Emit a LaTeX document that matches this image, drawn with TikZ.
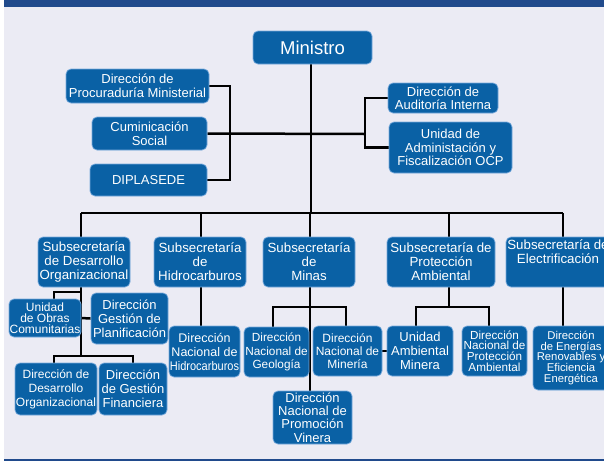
\documentclass[tikz,border=0pt]{standalone}
\usepackage{fontspec}
\setmainfont{Liberation Sans}
\pgfdeclarelayer{back}
\pgfdeclarelayer{bg}
\pgfsetlayers{back,bg,main}
\definecolor{barblue}{RGB}{32,74,140}
\definecolor{pagebg}{RGB}{235,235,244}
\definecolor{boxblue}{RGB}{10,97,165}
\definecolor{boxedge}{RGB}{120,170,220}
\newcommand{\fs}[2]{\fontsize{#1}{#2}\selectfont}
\tikzset{
  box/.style={draw=boxedge, line width=0.7pt, fill=boxblue, rounded corners=5pt,
    text=white, align=center, inner sep=0pt},
  ln/.style={line width=2.5pt, draw=black},
}
\begin{document}
\begin{tikzpicture}[x=1pt,y=-1pt]
\useasboundingbox (0,0) rectangle (604,461);
\clip (0,0) rectangle (604,461);
\begin{pgfonlayer}{back}
\fill[white] (0,0) rectangle (604,461);
\fill[pagebg] (4,7) rectangle (604,459);
\fill[barblue] (4,0) rectangle (604,7);
\fill[barblue] (4,459) rectangle (604,461);
\end{pgfonlayer}

% top level
\node[box, minimum width=119pt, minimum height=33pt, font=\fs{18.5}{20}] (min) at (312.5,47.5) {Ministro};
\node[box, minimum width=143pt, minimum height=34pt, font=\fs{13}{13.5}] (proc) at (137.5,86) {Dirección de\\Procuraduría Ministerial};
\node[box, minimum width=115pt, minimum height=33pt, font=\fs{13}{14}] (cum) at (149.5,133.5) {Cuminicación\\Social};
\node[box, minimum width=117pt, minimum height=32pt, font=\fs{13}{14}] (dip) at (148.5,180) {DIPLASEDE};
\node[box, minimum width=110pt, minimum height=30pt, font=\fs{13}{13.3}] (aud) at (443,98) {Dirección de\\Auditoría Interna};
\node[box, minimum width=123pt, minimum height=51pt, font=\fs{13}{13.3}] (uaf) at (450.5,147.5) {Unidad de\\Administación y\\Fiscalización OCP};

% subsecretarias
\node[box, minimum width=92pt, minimum height=50pt, font=\fs{13.3}{14}] (ssdo) at (84,262) {Subsecretaría\\de Desarrollo\\Organizacional};
\node[box, minimum width=92pt, minimum height=50pt, font=\fs{13.3}{14}] (ssh) at (200,262) {Subsecretaría\\de\\Hidrocarburos};
\node[box, minimum width=92pt, minimum height=50pt, font=\fs{13.3}{14}] (ssm) at (309,262) {Subsecretaría\\de\\Minas};
\node[box, minimum width=108pt, minimum height=50pt, font=\fs{13.3}{14}] (sspa) at (441,262) {Subsecretaría de\\Protección\\Ambiental};
\node[box, minimum width=104pt, minimum height=50pt, font=\fs{13.3}{14}] (sse) at (558,262) {Subsecretaría de\\Electrificación\\[7pt]};

% level 3
\node[box, minimum width=72pt, minimum height=38pt, font=\fs{12}{11}] (uoc) at (45,318) {Unidad\\de Obras\\Comunitarias};
\node[box, minimum width=77pt, minimum height=51pt, font=\fs{13}{13.8}] (dgp) at (129.5,318.5) {Dirección\\Gestión de\\Planificación};
\node[box, minimum width=82pt, minimum height=52pt, font=\fs{12}{14}] (ddo) at (56,389) {Dirección de\\Desarrollo\\Organizacional};
\node[box, minimum width=68pt, minimum height=52pt, font=\fs{13}{14}] (dgf) at (133,389) {Dirección\\de Gestión\\Financiera};
\node[box, minimum width=71pt, minimum height=51pt, font=\fs{12.5}{14}] (dnh) at (204.5,351.5) {Dirección\\Nacional de\\\scalebox{0.88}[1]{Hidrocarburos}};
\node[box, minimum width=65pt, minimum height=50pt, font=\fs{11.8}{13.3}] (dng) at (276.5,352) {Dirección\\Nacional de\\Geología};
\node[box, minimum width=69pt, minimum height=50pt, font=\fs{12}{13.3}] (dnm) at (347.5,351) {Dirección\\Nacional de\\Minería};
\node[box, minimum width=79pt, minimum height=53pt, font=\fs{13}{13.3}] (dnpm) at (312.5,417.5) {Dirección\\Nacional de\\Promoción\\Vinera};
\node[box, minimum width=66pt, minimum height=50pt, font=\fs{13}{14}] (uam) at (420,351) {Unidad\\Ambiental\\Minera};
\node[box, minimum width=65pt, minimum height=50pt, font=\fs{11.7}{10.7}] (dnpa) at (494.5,351) {Dirección\\Nacional de\\Protección\\Ambiental};
\node[box, minimum width=76pt, minimum height=64pt, font=\fs{11.3}{10.7}] (der) at (571,358) {Dirección\\de Energías\\Renovables y\\Eficiencia\\Energética};

% junction coordinates
\coordinate (busL) at (81,213);
\coordinate (busR) at (563,213);
\coordinate (jm) at (311,213);
\coordinate (jl) at (230,134);
\coordinate (jr) at (365,134);
\coordinate (d1) at (81,292);
\coordinate (d2) at (81,318);
\coordinate (d3) at (81,356);
\coordinate (m1) at (310,307);
\coordinate (p1) at (449,307);

\begin{pgfonlayer}{bg}
% ministro trunk
\draw[ln] (min.south -| jm) -- (jm);
\draw[ln] (cum.east) -- (jr);
\draw[ln] (proc.east) -| (jl) |- (dip.east);
\draw[ln] (aud.west) -| (jr) |- (uaf.west);
% bus
\draw[ln] (busL) -- (busR);
\draw[ln] (busL) -- (busL |- ssdo.north);
\draw[ln] (ssh.north -| 201,0) -- (201,213);
\draw[ln] (ssm.north -| 310,0) -- (310,213);
\draw[ln] (sspa.north -| 449,0) -- (449,213);
\draw[ln] (busR) -- (busR |- sse.north);
% desarrollo organizacional
\draw[ln] (ssdo.south -| d1) -- (d3);
\draw[ln] (d1) -| (uoc.north -| 54,0);
\draw[ln] (d2) -- (dgp.west);
\draw[ln] (ddo.north -| 54,0) |- (d3) -| (dgf.north -| 133,0);
% hidrocarburos
\draw[ln] (ssh.south -| 201,0) -- (dnh.north -| 201,0);
% minas
\draw[ln] (ssm.south -| m1) -- (dnpm.north -| m1);
\draw[ln] (dng.north -| 273,0) |- (m1) -| (dnm.north -| 346,0);
\draw[ln] (dnm.east) -- (uam.west);
% proteccion
\draw[ln] (sspa.south -| p1) -- (p1);
\draw[ln] (uam.north -| 416,0) |- (p1) -| (dnpa.north -| 489,0);
% electrificacion
\draw[ln] (sse.south -| 563,0) -- (der.north -| 563,0);
\end{pgfonlayer}
\end{tikzpicture}
\end{document}
